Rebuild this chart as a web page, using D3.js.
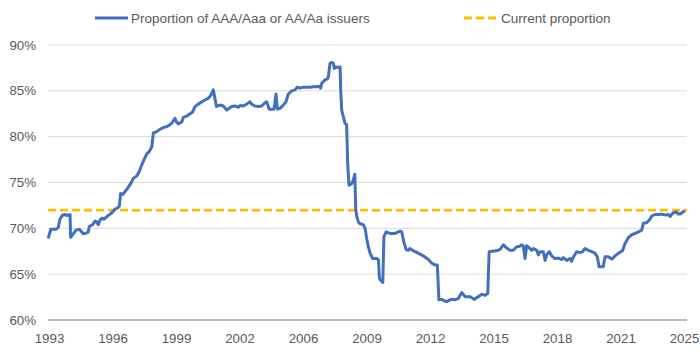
<!DOCTYPE html>
<html>
<head>
<meta charset="utf-8">
<script src="https://cdn.jsdelivr.net/npm/d3@7"></script>
<style>
  html, body { margin: 0; padding: 0; background: #ffffff; }
  svg { display: block; }
  text { font-family: "Liberation Sans", Arial, sans-serif; fill: #595959; }
</style>
</head>
<body>
<script>
// ---------- DATA ----------
const seriesName = "Proportion of AAA/Aaa or AA/Aa issuers";
const refName = "Current proportion";
const currentProportion = 72.0;

const years = [
  1993.16,1993.29,1993.42,1993.55,1993.67,1993.75,1993.89,1994.01,1994.09,1994.17,
  1994.26,1994.29,1994.42,1994.56,1994.73,1994.85,1994.93,1995.10,1995.18,1995.23,
  1995.40,1995.52,1995.60,1995.68,1995.77,1995.86,1995.97,1996.07,1996.19,1996.31,
  1996.41,1996.53,1996.64,1996.74,1996.81,1996.91,1997.03,1997.20,1997.32,1997.45,
  1997.62,1997.75,1997.87,1997.99,1998.12,1998.26,1998.38,1998.46,1998.63,1998.79,
  1998.96,1999.13,1999.30,1999.43,1999.55,1999.63,1999.72,1999.89,1999.97,2000.14,
  2000.31,2000.44,2000.56,2000.72,2000.90,2001.06,2001.23,2001.35,2001.48,2001.64,
  2001.82,2001.98,2002.16,2002.32,2002.41,2002.57,2002.74,2002.83,2002.99,2003.16,
  2003.33,2003.41,2003.58,2003.75,2003.92,2004.09,2004.17,2004.30,2004.42,2004.54,
  2004.64,2004.71,2004.84,2004.98,2005.14,2005.26,2005.43,2005.60,2005.71,2005.85,
  2006.02,2006.19,2006.35,2006.52,2006.69,2006.82,2006.89,2006.94,2007.11,2007.23,
  2007.28,2007.36,2007.45,2007.53,2007.58,2007.66,2007.78,2007.87,2007.90,2007.95,
  2008.03,2008.12,2008.20,2008.25,2008.32,2008.46,2008.54,2008.61,2008.66,2008.71,
  2008.79,2008.87,2009.04,2009.13,2009.21,2009.29,2009.38,2009.51,2009.72,2009.80,
  2009.85,2009.97,2010.02,2010.08,2010.18,2010.38,2010.64,2010.89,2010.98,2011.06,
  2011.19,2011.31,2011.39,2011.56,2011.81,2012.06,2012.32,2012.49,2012.65,2012.77,
  2012.85,2012.99,2013.11,2013.24,2013.41,2013.55,2013.66,2013.83,2014.00,2014.17,
  2014.42,2014.62,2014.84,2015.01,2015.17,2015.31,2015.38,2015.51,2015.76,2015.93,
  2016.10,2016.23,2016.43,2016.60,2016.77,2016.94,2017.02,2017.10,2017.19,2017.27,
  2017.44,2017.52,2017.61,2017.78,2017.86,2017.95,2018.11,2018.20,2018.28,2018.41,
  2018.53,2018.70,2018.87,2019.04,2019.12,2019.29,2019.46,2019.54,2019.62,2019.79,
  2019.96,2020.09,2020.21,2020.38,2020.55,2020.71,2020.83,2020.92,2021.13,2021.22,
  2021.39,2021.56,2021.73,2021.90,2022.10,2022.23,2022.40,2022.57,2022.74,2022.90,
  2023.07,2023.15,2023.32,2023.45,2023.58,2023.74,2023.91,2024.08,2024.25,2024.41,
  2024.50,2024.63,2024.80,2024.92,2025.04,2025.14,2025.25
];

const values = [
  68.9,69.9,69.9,69.9,70.1,71.0,71.45,71.5,71.4,71.45,
  71.5,69.0,69.4,69.8,69.9,69.6,69.4,69.5,69.6,70.2,
  70.4,70.8,70.7,70.4,70.9,71.1,71.0,71.2,71.4,71.6,
  71.8,72.1,72.2,72.4,73.8,73.7,74.0,74.5,74.9,75.45,
  75.7,76.2,76.9,77.5,78.1,78.4,78.9,80.4,80.55,80.8,
  81.0,81.1,81.3,81.6,82.0,81.6,81.4,81.6,82.1,82.25,
  82.5,82.7,83.3,83.55,83.8,84.0,84.2,84.5,85.1,83.3,
  83.45,83.35,82.9,83.15,83.3,83.35,83.2,83.4,83.35,83.55,
  83.8,83.55,83.35,83.3,83.35,83.7,83.8,83.0,83.0,83.0,
  84.65,83.0,83.1,83.35,83.8,84.65,85.0,85.1,85.4,85.3,
  85.4,85.4,85.4,85.45,85.45,85.5,85.3,85.8,86.2,86.3,
  86.55,88.0,88.1,88.0,87.45,87.6,87.55,87.6,85.1,82.9,
  82.2,81.45,81.3,77.1,74.7,74.9,75.3,75.9,72.0,71.3,
  70.7,70.5,70.4,70.0,68.9,68.0,67.3,66.7,66.7,66.6,
  64.55,64.2,64.1,69.1,69.6,69.45,69.45,69.7,69.6,68.7,
  67.7,67.6,67.8,67.55,67.3,67.0,66.6,66.2,66.0,66.0,
  62.2,62.25,62.1,62.0,62.2,62.25,62.2,62.35,63.0,62.55,
  62.55,62.25,62.55,62.8,62.7,62.9,67.45,67.5,67.55,67.7,
  68.2,67.9,67.6,67.6,68.0,68.05,68.2,68.1,66.7,68.1,
  67.8,67.6,67.8,67.6,67.1,67.45,67.45,66.5,67.1,67.45,
  67.0,66.7,66.75,66.6,66.8,66.5,66.7,66.4,66.85,67.45,
  67.35,67.45,67.8,67.6,67.45,67.3,66.9,65.8,65.8,66.9,
  66.9,66.65,67.0,67.3,67.55,68.35,69.0,69.3,69.45,69.6,
  69.8,70.55,70.6,70.9,71.35,71.5,71.5,71.55,71.45,71.5,
  71.3,71.65,71.8,71.55,71.6,71.8,71.9
];

const yTicks = [60, 65, 70, 75, 80, 85, 90];
const xTickLabels = ["1993","1996","1999","2002","2006","2009","2012","2015","2018","2021","2025"];
const xTickStart = 1993.2;
const xTickStep = 3.2;

// ---------- LAYOUT ----------
const W = 700, H = 353;
const plotLeft = 48, plotRight = 687;
const svg = d3.select("body").append("svg").attr("width", W).attr("height", H);

const x = d3.scaleLinear().domain([1993.2, 2025.2]).range([49, 684]);
const y = d3.scaleLinear().domain([60, 90]).range([320, 45]);

// gridlines
svg.append("g").selectAll("line")
  .data(yTicks.filter(d => d !== 60))
  .join("line")
  .attr("x1", plotLeft).attr("x2", plotRight)
  .attr("y1", d => y(d)).attr("y2", d => y(d))
  .attr("stroke", "#d9d9d9").attr("stroke-width", 1);

// y labels
svg.append("g").selectAll("text")
  .data(yTicks)
  .join("text")
  .attr("x", 36).attr("y", d => y(d))
  .attr("dy", "0.35em")
  .attr("text-anchor", "end")
  .style("font-size", "13.3px")
  .text(d => d + "%");

// bottom axis
const xTickVals = d3.range(xTickLabels.length).map(i => xTickStart + i * xTickStep);
const xAxis = d3.axisBottom(x)
  .tickValues(xTickVals)
  .tickFormat((d, i) => xTickLabels[i])
  .tickSize(0)
  .tickPadding(14);
const gx = svg.append("g").attr("transform", `translate(0,${y(60)})`).call(xAxis);
gx.select(".domain").remove();
gx.selectAll("text").style("font-size", "13.3px").attr("fill", "#595959")
  .style("font-family", '"Liberation Sans", Arial, sans-serif');
svg.append("line")
  .attr("x1", plotLeft).attr("x2", plotRight)
  .attr("y1", y(60)).attr("y2", y(60))
  .attr("stroke", "#a6a6a6").attr("stroke-width", 1.5);

// reference dashed line
svg.append("line")
  .attr("x1", plotLeft).attr("x2", plotRight)
  .attr("y1", y(currentProportion)).attr("y2", y(currentProportion))
  .attr("stroke", "#ffbc00").attr("stroke-width", 2.75)
  .attr("stroke-dasharray", "8,4");

// series line
const data = years.map((yr, i) => ({ yr, v: values[i] }));
svg.append("path")
  .datum(data)
  .attr("fill", "none")
  .attr("stroke", "#4170bd")
  .attr("stroke-width", 3)
  .attr("stroke-linejoin", "round")
  .attr("d", d3.line().x(d => x(d.yr)).y(d => y(d.v)));

// legend
const lg = svg.append("g");
lg.append("line").attr("x1", 95).attr("x2", 128).attr("y1", 18).attr("y2", 18)
  .attr("stroke", "#4170bd").attr("stroke-width", 3);
lg.append("text").attr("x", 131).attr("y", 18).attr("dy", "0.35em")
  .style("font-size", "13.5px").text(seriesName);
lg.append("line").attr("x1", 464).attr("x2", 496).attr("y1", 18).attr("y2", 18)
  .attr("stroke", "#ffbc00").attr("stroke-width", 3).attr("stroke-dasharray", "8,4");
lg.append("text").attr("x", 501).attr("y", 18).attr("dy", "0.35em")
  .style("font-size", "13.5px").text(refName);
</script>
</body>
</html>
